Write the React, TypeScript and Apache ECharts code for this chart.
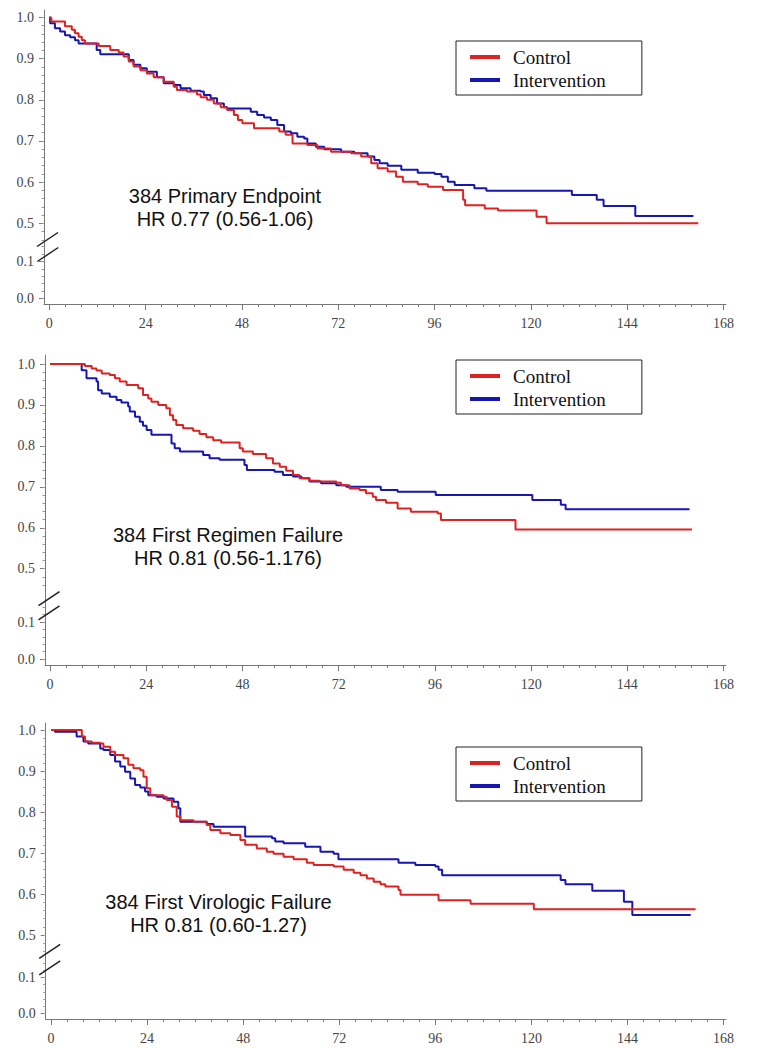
import { useEffect, useRef } from 'react';
import * as echarts from 'echarts';

// ---------- data ----------
const seriesNames = ['Control', 'Intervention'];
const xTickLabels = [0, 24, 48, 72, 96, 120, 144, 168];
const yUpperTicks = [0.5, 0.6, 0.7, 0.8, 0.9, 1.0];
const yLowerTicks = [0.0, 0.1];
const panelTitles = ['384 Primary Endpoint', '384 First Regimen Failure', '384 First Virologic Failure'];
const panelHR = ['HR 0.77 (0.56-1.06)', 'HR 0.81 (0.56-1.176)', 'HR 0.81 (0.60-1.27)'];

const primaryControl: [number, number][] = [
  [0, 1], [0.5, 0.99], [3.9, 0.979], [5.6, 0.970], [6.4, 0.962], [7.3, 0.953], [8.1, 0.945], [8.9, 0.937],
  [12.3, 0.931], [15.2, 0.921], [17.3, 0.915], [18.5, 0.905], [19.8, 0.893], [21, 0.881], [22.7, 0.872],
  [24.3, 0.864], [26, 0.855], [28.5, 0.844], [31, 0.832], [31.8, 0.824], [34.3, 0.820], [36.8, 0.813],
  [37.7, 0.806], [39.3, 0.800], [41, 0.791], [42.7, 0.782], [44.3, 0.775], [46, 0.763], [47, 0.751],
  [48.1, 0.743], [51, 0.731], [57.3, 0.723], [58.9, 0.715], [60.6, 0.694], [64.3, 0.690], [66.8, 0.682],
  [70.2, 0.674], [75.2, 0.670], [77.7, 0.662], [80.2, 0.646], [81.8, 0.634], [84.3, 0.626], [86.4, 0.613],
  [88.1, 0.601], [91.8, 0.595], [94.3, 0.589], [98.1, 0.581], [103.1, 0.557], [103.6, 0.544], [108.5, 0.536],
  [111.8, 0.531], [121.4, 0.516], [123.9, 0.500], [161.7, 0.500],
];
const primaryIntervention: [number, number][] = [
  [0, 1], [0.2, 0.986], [1.4, 0.974], [2.7, 0.966], [3.9, 0.957], [5.2, 0.952], [6.4, 0.945], [7.3, 0.937],
  [11.8, 0.921], [12.7, 0.911], [19.8, 0.897], [21, 0.885], [22.7, 0.877], [24.3, 0.868], [26.8, 0.855],
  [28.5, 0.840], [31, 0.836], [32.7, 0.828], [35.2, 0.822], [37.7, 0.820], [38.5, 0.812], [40.2, 0.804],
  [41.8, 0.791], [43.5, 0.782], [44.3, 0.779], [50.2, 0.771], [51.8, 0.763], [53.5, 0.757], [55.2, 0.751],
  [56.8, 0.739], [58.5, 0.723], [60.2, 0.719], [61.8, 0.710], [63.5, 0.706], [64.3, 0.694], [66.4, 0.686],
  [68.5, 0.680], [72.7, 0.674], [76, 0.670], [79.3, 0.662], [81, 0.654], [82.3, 0.646], [84.3, 0.640],
  [87.7, 0.630], [91.8, 0.623], [96, 0.620], [97.7, 0.613], [99.3, 0.601], [101, 0.593], [105.9, 0.585],
  [108.9, 0.579], [130.2, 0.569], [136.4, 0.557], [138.1, 0.542], [146, 0.518], [160.5, 0.518],
];
const regimenControl: [number, number][] = [
  [0, 1], [8.7, 0.995], [10.4, 0.989], [11.6, 0.984], [12.9, 0.977], [14.9, 0.973], [16.2, 0.965],
  [17.4, 0.957], [19.1, 0.949], [22, 0.941], [23.2, 0.924], [24.5, 0.916], [25.3, 0.908], [27, 0.900],
  [29, 0.892], [29.9, 0.875], [30.7, 0.863], [31.5, 0.851], [33.2, 0.843], [35.7, 0.837], [37.3, 0.829],
  [39, 0.821], [40.7, 0.814], [42.7, 0.808], [47.3, 0.794], [48.1, 0.786], [50.6, 0.780], [53.9, 0.770],
  [55.6, 0.757], [57.3, 0.749], [58.9, 0.739], [60.6, 0.729], [62.2, 0.721], [64.7, 0.715], [67.2, 0.713],
  [71.4, 0.710], [72.6, 0.704], [74.7, 0.696], [77.2, 0.692], [78.8, 0.684], [80.5, 0.676], [81.3, 0.668],
  [83.8, 0.661], [86.7, 0.647], [90, 0.639], [96.7, 0.635], [97.5, 0.619], [116.1, 0.596], [160.1, 0.596],
];
const regimenIntervention: [number, number][] = [
  [0, 1], [7.9, 0.985], [9.1, 0.965], [11.6, 0.957], [12, 0.936], [12.9, 0.928], [14.9, 0.920],
  [16.6, 0.912], [17.8, 0.906], [19.5, 0.896], [19.9, 0.884], [21.2, 0.871], [22.4, 0.859], [23.2, 0.849],
  [24.1, 0.839], [25.3, 0.827], [30.3, 0.806], [31.1, 0.794], [32.4, 0.786], [38.2, 0.778], [39.8, 0.770],
  [42.3, 0.766], [48.5, 0.753], [49.1, 0.741], [56, 0.737], [58.1, 0.729], [60.6, 0.725], [62.7, 0.721],
  [64.7, 0.713], [67.6, 0.709], [71.4, 0.704], [73.9, 0.700], [82.5, 0.692], [86.7, 0.688], [96.2, 0.680],
  [120.3, 0.668], [127.4, 0.656], [128.6, 0.645], [159.5, 0.645],
];
const virologicControl: [number, number][] = [
  [0, 1], [7.7, 0.984], [8.5, 0.972], [10.2, 0.969], [12.3, 0.967], [13.1, 0.959], [14.8, 0.947], [16, 0.939],
  [18.1, 0.931], [19.3, 0.915], [20.6, 0.907], [22.3, 0.902], [23.1, 0.886], [23.9, 0.858], [24.8, 0.841],
  [28.1, 0.837], [28.9, 0.829], [30.2, 0.813], [31.4, 0.789], [32.3, 0.780], [35.6, 0.776], [38.9, 0.768],
  [39.8, 0.756], [42.3, 0.748], [44.8, 0.744], [47.3, 0.732], [48.5, 0.720], [51.4, 0.711], [53.9, 0.703],
  [55.6, 0.698], [58.1, 0.691], [60.6, 0.685], [63.9, 0.676], [65.6, 0.671], [70.6, 0.667], [73.1, 0.659],
  [75.6, 0.652], [77.3, 0.646], [78.9, 0.638], [80.6, 0.630], [82.3, 0.624], [83.5, 0.618], [86.8, 0.610],
  [87.3, 0.598], [96.8, 0.585], [104.8, 0.576], [120.6, 0.563], [161, 0.563],
];
const virologicIntervention: [number, number][] = [
  [0, 1], [1, 0.996], [6.4, 0.984], [8.1, 0.972], [9.3, 0.967], [12.3, 0.955], [13.1, 0.951], [14.8, 0.939],
  [16, 0.923], [17.3, 0.911], [18.5, 0.898], [19.8, 0.882], [21, 0.866], [22.3, 0.860], [23.5, 0.850],
  [24.3, 0.841], [26.4, 0.837], [28.1, 0.833], [30.6, 0.825], [31.8, 0.809], [32.3, 0.776], [38.9, 0.771],
  [40.6, 0.764], [48.5, 0.740], [55.2, 0.736], [56, 0.728], [58.1, 0.724], [63.5, 0.715], [67.3, 0.703],
  [70.6, 0.698], [71.8, 0.685], [86.8, 0.676], [91, 0.671], [96, 0.667], [96.8, 0.659], [97.7, 0.646],
  [127.3, 0.634], [128.5, 0.624], [135.2, 0.608], [143.1, 0.581], [145.2, 0.549], [159.8, 0.549],
];
const panelData = [
  [primaryControl, primaryIntervention],
  [regimenControl, regimenIntervention],
  [virologicControl, virologicIntervention],
];

// ---------- layout (pixels) ----------
const layouts = [
  { left: 44, x0: 49.3, right: 726, top: 10, y10: 17.5, y05: 223.3, brk: 242, y01: 261.5, y00: 298.5, axisY: 304,
    textX: 225, textY: 207.5, legendTop: 41, slashes: [[47.5, 239.5], [47.8, 254.5]] },
  { left: 45, x0: 50, right: 726, top: 355, y10: 364, y05: 568.7, brk: 595, y01: 622, y00: 659, axisY: 665,
    textX: 228, textY: 546, legendTop: 360, slashes: [[49, 598.7], [49, 612.8]] },
  { left: 45.7, x0: 51, right: 726, top: 723, y10: 730, y05: 935, brk: 956, y01: 977.5, y00: 1013.5, axisY: 1019,
    textX: 218.5, textY: 913, legendTop: 747, slashes: [[49.7, 951.3], [49.7, 967.8]] },
];

const colors = ['#dd2222', '#1616b0'];
const axisColor = '#777';
const labelStyle = { fontFamily: 'Liberation Serif', fontSize: 14, color: '#444' };

function stepList(a: number, b: number, s: number) {
  const out: number[] = [];
  for (let v = a; v <= b + 1e-9; v += s) out.push(Math.round(v * 1000) / 1000);
  return out;
}

function buildOption() {
  const grid: any[] = [];
  const xAxis: any[] = [];
  const yAxis: any[] = [];
  const series: any[] = [];
  const legend: any[] = [];
  const graphic: any[] = [];

  layouts.forEach((L, p) => {
    const pxPerH = (L.right - L.x0) / 168.6;
    const xMin = -(L.x0 - L.left) / pxPerH;
    const xMax = (L.right - L.x0) / pxPerH;
    const su = (L.y05 - L.y10) / 0.5;
    const uMax = 1 + (L.y10 - L.top) / su;
    const uMin = 0.5 - (L.brk - L.y05) / su;
    const sl = (L.y00 - L.y01) / 0.1;
    const lMax = 0.1 + (L.y01 - L.brk) / sl;
    const lMin = -(L.axisY - L.y00) / sl;

    const gU = grid.length;
    grid.push({ left: L.left, top: L.top, width: L.right - L.left, height: L.brk - L.top, outerBoundsMode: 'none' });
    grid.push({ left: L.left, top: L.brk, width: L.right - L.left, height: L.axisY - L.brk, outerBoundsMode: 'none' });

    const xU = xAxis.length;
    xAxis.push({ type: 'value', gridIndex: gU, min: xMin, max: xMax, show: false });
    xAxis.push({
      type: 'value', gridIndex: gU + 1, min: xMin, max: xMax, position: 'bottom',
      axisLine: { show: true, onZero: false, lineStyle: { color: axisColor, width: 1 } },
      axisTick: { show: true, customValues: xTickLabels, length: 6, lineStyle: { color: axisColor } },
      axisLabel: { show: true, customValues: xTickLabels, margin: 12, ...labelStyle },
      splitLine: { show: false },
    });
    xAxis.push({
      type: 'value', gridIndex: gU + 1, min: xMin, max: xMax, position: 'bottom',
      axisLine: { show: false, onZero: false },
      axisTick: { show: true, customValues: stepList(0, 168, 4), length: 3, lineStyle: { color: axisColor } },
      axisLabel: { show: false },
      splitLine: { show: false },
    });

    const yU = yAxis.length;
    yAxis.push({
      type: 'value', gridIndex: gU, min: uMin, max: uMax, position: 'left',
      axisLine: { show: true, onZero: false, lineStyle: { color: axisColor, width: 1 } },
      axisTick: { show: true, customValues: yUpperTicks, length: 5, lineStyle: { color: axisColor } },
      axisLabel: { show: true, customValues: yUpperTicks, margin: 10, formatter: (v: number) => v.toFixed(1), ...labelStyle },
      splitLine: { show: false },
    });
    yAxis.push({
      type: 'value', gridIndex: gU, min: uMin, max: uMax, position: 'left',
      axisLine: { show: false, onZero: false },
      axisTick: { show: true, customValues: stepList(0.46, 1.0, 0.02).filter((v) => v >= uMin && v <= uMax), length: 2.5, lineStyle: { color: '#999' } },
      axisLabel: { show: false },
      splitLine: { show: false },
    });
    yAxis.push({
      type: 'value', gridIndex: gU + 1, min: lMin, max: lMax, position: 'left',
      axisLine: { show: true, onZero: false, lineStyle: { color: axisColor, width: 1 } },
      axisTick: { show: true, customValues: yLowerTicks, length: 5, lineStyle: { color: axisColor } },
      axisLabel: { show: true, customValues: yLowerTicks, margin: 10, formatter: (v: number) => v.toFixed(1), ...labelStyle },
      splitLine: { show: false },
    });
    yAxis.push({
      type: 'value', gridIndex: gU + 1, min: lMin, max: lMax, position: 'left',
      axisLine: { show: false, onZero: false },
      axisTick: { show: true, customValues: stepList(0, 0.14, 0.02).filter((v) => v >= lMin && v <= lMax), length: 2.5, lineStyle: { color: '#999' } },
      axisLabel: { show: false },
      splitLine: { show: false },
    });

    panelData[p].forEach((d, i) => {
      series.push({
        name: seriesNames[i], type: 'line', xAxisIndex: xU, yAxisIndex: yU, data: d, step: 'end',
        showSymbol: false, symbol: 'none', color: colors[i],
        lineStyle: { color: colors[i], width: 2 }, z: 3 - i,
      });
    });

    legend.push({
      data: seriesNames, orient: 'vertical', left: 456, top: L.legendTop, icon: 'rect',
      itemWidth: 30, itemHeight: 4, itemGap: 3, selectedMode: false,
      padding: [6, 36, 5, 14], borderColor: '#222', borderWidth: 1, backgroundColor: '#fff',
      textStyle: { fontFamily: 'Liberation Serif', fontSize: 19, color: '#111', lineHeight: 20, padding: [0, 0, 0, 8] },
    });

    graphic.push({
      type: 'text', x: L.textX, y: L.textY, z: 10,
      style: {
        text: panelTitles[p] + '\n' + panelHR[p], align: 'center', verticalAlign: 'middle',
        fontFamily: 'Liberation Sans', fontSize: 20, lineHeight: 23, fill: '#111',
      },
    });
    L.slashes.forEach(([cx, cy]) => {
      graphic.push({
        type: 'line', z: 10,
        shape: { x1: cx - 10.5, y1: cy + 7, x2: cx + 10.5, y2: cy - 7 },
        style: { stroke: '#222', lineWidth: 1.5 },
      });
    });
  });

  return { animation: false, backgroundColor: '#fff', grid, xAxis, yAxis, series, legend, graphic };
}

export default function App() {
  const ref = useRef<HTMLDivElement>(null);
  useEffect(() => {
    const chart = echarts.init(ref.current!, null, { renderer: 'svg' });
    chart.setOption(buildOption() as any);
    return () => chart.dispose();
  }, []);
  return (
    <div
      ref={ref}
      style={{ position: 'absolute', left: 0, top: 0, width: 758, height: 1048, background: '#fff' }}
    />
  );
}
